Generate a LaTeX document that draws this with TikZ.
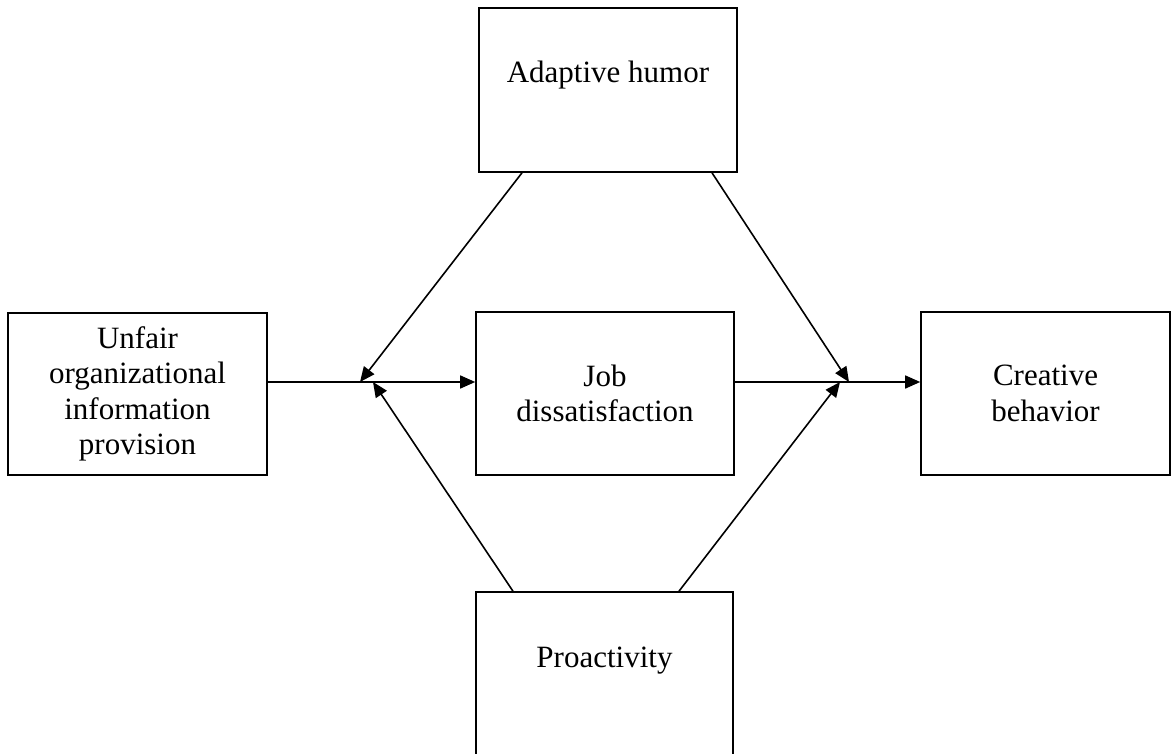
\documentclass[tikz,border=0pt]{standalone}
\usepackage{fontspec}
\setmainfont{Liberation Serif}
\usetikzlibrary{arrows.meta}
\begin{document}
\begin{tikzpicture}[x=1pt,y=-1pt,
  box/.style={draw, line width=1.6pt, inner sep=0pt, align=center,
    font=\fontsize{31}{35.5}\selectfont},
  lbl/.style={inner sep=0pt, font=\fontsize{31}{35.5}\selectfont},
  arr/.style={line width=1.6pt, -{Triangle[length=15pt,width=13pt]}}]
\useasboundingbox (0,0) rectangle (1171,754);
\begin{scope}
\clip (0,0) rectangle (1171,754);
\node[box, minimum width=258pt, minimum height=164pt] (ah) at (608,90) {};
\node[lbl, anchor=base] (ahT) at (608,83) {Adaptive humor};
\node[box, minimum width=259pt, minimum height=162pt] (un) at (137.5,394) {Unfair\\organizational\\information\\provision};
\node[box, minimum width=258pt, minimum height=163pt] (job) at (605,393.5) {Job\\dissatisfaction};
\node[box, minimum width=249pt, minimum height=163pt] (cr) at (1045.5,393.5) {Creative\\behavior};
\node[box, minimum width=257pt, minimum height=180pt] (pr) at (604.5,682) {};
\node[lbl, anchor=base] (prT) at (604.5,667) {Proactivity};

\coordinate (unE) at (un.east |- 0,382);
\coordinate (jobW) at (job.west |- 0,382);
\coordinate (jobE) at (job.east |- 0,382);
\coordinate (crW) at (cr.west |- 0,382);
\coordinate (ahL) at (522,0 |- ah.south);
\coordinate (ahR) at (712,0 |- ah.south);
\coordinate (prL) at (513,0 |- pr.north);
\coordinate (prR) at (679,0 |- pr.north);
\coordinate (m1) at (360,382);
\coordinate (m2) at (373,382);
\coordinate (m3) at (849,382);
\coordinate (m4) at (840,382);

\draw[arr] (unE) -- (jobW);
\draw[arr] (jobE) -- (crW);
\draw[arr] (ahL) -- (m1);
\draw[arr] (ahR) -- (m3);
\draw[arr] (prL) -- (m2);
\draw[arr] (prR) -- (m4);
\end{scope}
\end{tikzpicture}
\end{document}
